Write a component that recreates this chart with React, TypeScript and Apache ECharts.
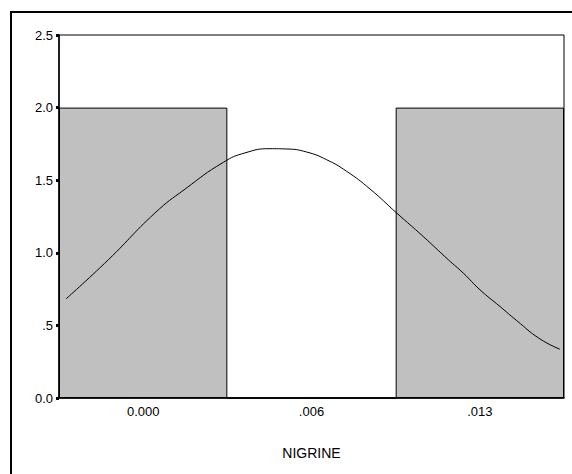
import React, { useEffect, useRef } from "react";
import * as echarts from "echarts";

const categories = ["0.000", ".006", ".013"];
const counts = [2, 0, 2];
const yTickLabels: Record<string, string> = { "0": "0.0", "0.5": ".5", "1": "1.0", "1.5": "1.5", "2": "2.0", "2.5": "2.5" };
// normal curve, x in bin units (bin centre = index)
const curveX = [-0.458, -0.207, 0.07, 0.249, 0.476, 0.605, 0.753, 0.853, 0.971, 1.09, 1.209, 1.348, 1.506, 1.664, 1.813, 1.902, 2.001, 2.12, 2.219, 2.357, 2.476];
const curveY = [0.683, 0.952, 1.274, 1.439, 1.623, 1.688, 1.717, 1.715, 1.694, 1.641, 1.561, 1.439, 1.274, 1.112, 0.952, 0.86, 0.745, 0.63, 0.533, 0.407, 0.336];
const xTitle = "NIGRINE";

export default function App() {
  const ref = useRef<HTMLDivElement>(null);
  useEffect(() => {
    if (!ref.current) return;
    const chart = echarts.init(ref.current, undefined, { renderer: "svg" });
    const font = "Liberation Sans, Arial, sans-serif";
    chart.setOption({
      animation: false,
      backgroundColor: "#ffffff",
      textStyle: { fontFamily: font },
      graphic: [
        {
          type: "rect",
          shape: { x: 11, y: 12, width: 620, height: 520 },
          style: { fill: "none", stroke: "#000", lineWidth: 2 },
          z: -1,
        },
      ],
      grid: {
        left: 59,
        top: 35,
        right: 8,
        bottom: 76,
        show: true,
        borderColor: "#000",
        borderWidth: 1,
      },
      xAxis: [
        {
          type: "category",
          data: categories,
          boundaryGap: true,
          z: 5,
          axisLine: { onZero: false, lineStyle: { color: "#000", width: 1.5 } },
          axisTick: { alignWithLabel: true, length: 3, lineStyle: { color: "#000", width: 3 } },
          axisLabel: { color: "#000", fontSize: 13, fontFamily: font, margin: 7 },
          name: xTitle,
          nameLocation: "middle",
          nameGap: 48,
          nameTextStyle: { color: "#000", fontSize: 14, fontFamily: font },
          splitLine: { show: false },
        },
        {
          type: "value",
          min: -0.5,
          max: 2.5,
          show: false,
          axisLine: { onZero: false },
        },
      ],
      yAxis: {
        type: "value",
        min: 0,
        max: 2.5,
        interval: 0.5,
        z: 5,
        axisLine: { show: true, onZero: false, lineStyle: { color: "#000", width: 1.5 } },
        axisTick: { show: true, length: 3, lineStyle: { color: "#000", width: 3 } },
        axisLabel: {
          color: "#000",
          fontSize: 13,
          fontFamily: font,
          margin: 6,
          formatter: (v: number) => yTickLabels[String(v)] ?? String(v),
        },
        splitLine: { show: false },
      },
      series: [
        {
          type: "bar",
          data: counts,
          barWidth: "100%",
          barCategoryGap: 0,
          itemStyle: { color: "#c0c0c0", borderColor: "#000", borderWidth: 1 },
          z: 2,
        },
        {
          type: "line",
          xAxisIndex: 1,
          data: curveX.map((x, i) => [x, curveY[i]]),
          smooth: true,
          showSymbol: false,
          lineStyle: { color: "#000", width: 1 },
          z: 3,
        },
      ],
    });
    return () => chart.dispose();
  }, []);
  return (
    <div
      ref={ref}
      style={{ position: "fixed", left: 0, top: 0, width: 572, height: 474, background: "#fff" }}
    />
  );
}
